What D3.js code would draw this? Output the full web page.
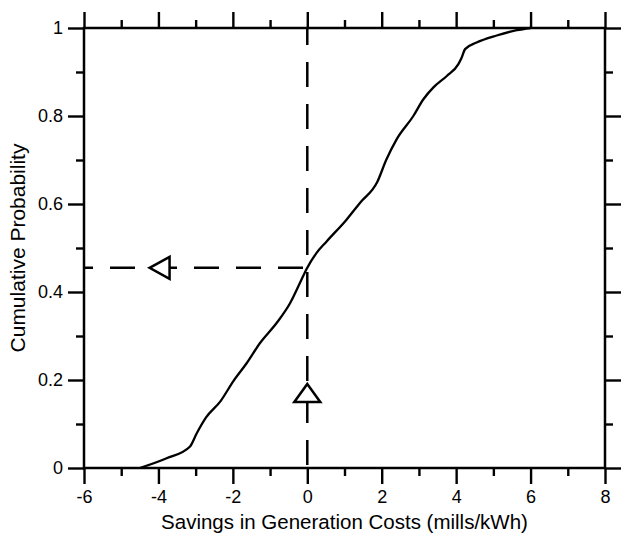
<!DOCTYPE html>
<html>
<head>
<meta charset="utf-8">
<script src="https://cdn.jsdelivr.net/npm/d3@7"></script>
<style>
  body { margin: 0; background: #fff; }
  svg { display: block; font-family: "Liberation Sans", Arial, Helvetica, sans-serif; }
  .tick text { font-size: 18px; fill: #000; }
  .tick line { stroke: #000; stroke-width: 2.4; }
</style>
</head>
<body>
<svg id="chart" width="623" height="536"></svg>
<script>
// savings (mills/kWh) vs cumulative probability
const savings = [-4.5, -3.78, -3.15, -2.97, -2.72, -2.33, -1.99, -1.63, -1.27, -0.82, -0.46, -0.195, -0.015, 0.25, 0.52, 1.06, 1.42, 1.88, 2.12, 2.4, 2.85, 3.12, 3.39, 3.75, 4.06, 4.15, 4.24, 4.55, 5.09, 5.63, 6.0];
const cumProb = [0, 0.022, 0.049, 0.079, 0.115, 0.152, 0.197, 0.238, 0.284, 0.33, 0.375, 0.421, 0.453, 0.489, 0.515, 0.565, 0.603, 0.65, 0.70, 0.747, 0.80, 0.838, 0.865, 0.891, 0.918, 0.933, 0.952, 0.967, 0.983, 0.995, 1.0];

const xMajor = [-6, -4, -2, 0, 2, 4, 6, 8];
const xMinor = [-5, -3, -1, 1, 3, 5, 7];
const yMajor = [0, 0.2, 0.4, 0.6, 0.8, 1];
const yMinor = [0.1, 0.3, 0.5, 0.7, 0.9];

// the reading shown by the arrows
const markX = 0;
const markY = 0.455;
const arrowLeftAt = -4.05;
const arrowUpAt = 0.15;

const svg = d3.select("#chart");

const x = d3.scaleLinear().domain([-6, 8]).range([84, 605]);
const y = d3.scaleLinear().domain([0, 1]).range([468, 28]);

// plain hyphen for negatives, like the original
const fmt = d => String(d);

// bottom
svg.append("g").attr("transform", `translate(0,${y(0)})`)
  .call(d3.axisBottom(x).tickValues(xMajor).tickSize(16).tickPadding(6).tickFormat(fmt).tickSizeOuter(0))
  .call(g => g.select(".domain").remove());
svg.append("g").attr("transform", `translate(0,${y(0)})`)
  .call(d3.axisBottom(x).tickValues(xMinor).tickSize(8).tickFormat("").tickSizeOuter(0))
  .call(g => g.select(".domain").remove());

// top
svg.append("g").attr("transform", `translate(0,${y(1)})`)
  .call(d3.axisTop(x).tickValues(xMajor).tickSize(16).tickFormat("").tickSizeOuter(0))
  .call(g => g.select(".domain").remove());
svg.append("g").attr("transform", `translate(0,${y(1)})`)
  .call(d3.axisTop(x).tickValues(xMinor).tickSize(8).tickFormat("").tickSizeOuter(0))
  .call(g => g.select(".domain").remove());

// left
svg.append("g").attr("transform", `translate(${x(-6)},0)`)
  .call(d3.axisLeft(y).tickValues(yMajor).tickSize(16).tickPadding(5).tickFormat(fmt).tickSizeOuter(0))
  .call(g => g.select(".domain").remove());
svg.append("g").attr("transform", `translate(${x(-6)},0)`)
  .call(d3.axisLeft(y).tickValues(yMinor).tickSize(8).tickFormat("").tickSizeOuter(0))
  .call(g => g.select(".domain").remove());

// right
svg.append("g").attr("transform", `translate(${x(8)},0)`)
  .call(d3.axisRight(y).tickValues(yMajor).tickSize(16).tickFormat("").tickSizeOuter(0))
  .call(g => g.select(".domain").remove());
svg.append("g").attr("transform", `translate(${x(8)},0)`)
  .call(d3.axisRight(y).tickValues(yMinor).tickSize(8).tickFormat("").tickSizeOuter(0))
  .call(g => g.select(".domain").remove());

// frame
svg.append("rect")
  .attr("x", x(-6)).attr("y", y(1))
  .attr("width", x(8) - x(-6)).attr("height", y(0) - y(1))
  .attr("fill", "none").attr("stroke", "#000").attr("stroke-width", 2.5);

// dashed guide lines
svg.append("line")
  .attr("x1", x(-6)).attr("x2", x(markX))
  .attr("y1", y(markY)).attr("y2", y(markY))
  .attr("stroke", "#000").attr("stroke-width", 2.5)
  .attr("stroke-dasharray", "25,17").attr("stroke-dashoffset", 16);

svg.append("line")
  .attr("x1", x(markX)).attr("x2", x(markX))
  .attr("y1", y(1)).attr("y2", y(0))
  .attr("stroke", "#000").attr("stroke-width", 2.5)
  .attr("stroke-dasharray", "25,17").attr("stroke-dashoffset", 8);

// CDF curve
const line = d3.line()
  .x((d, i) => x(savings[i]))
  .y(d => y(d))
  .curve(d3.curveMonotoneX);

svg.append("path")
  .datum(cumProb)
  .attr("d", line)
  .attr("fill", "none")
  .attr("stroke", "#000")
  .attr("stroke-width", 2.3);

// arrows
const ax = x(arrowLeftAt), ay = y(markY);
svg.append("path")
  .attr("d", `M${ax - 7},${ay} L${ax + 13},${ay - 11} L${ax + 13},${ay + 11} Z`)
  .attr("fill", "#fff").attr("stroke", "#000").attr("stroke-width", 2.5)
  .attr("stroke-linejoin", "miter");

const ux = x(markX), uy = y(arrowUpAt);
svg.append("path")
  .attr("d", `M${ux},${uy - 18} L${ux + 13},${uy} L${ux - 13},${uy} Z`)
  .attr("fill", "#fff").attr("stroke", "#000").attr("stroke-width", 2.5)
  .attr("stroke-linejoin", "miter");

// axis titles
svg.append("text")
  .attr("x", (x(-6) + x(8)) / 2).attr("y", 529)
  .attr("text-anchor", "middle")
  .style("font-size", "20.5px")
  .text("Savings in Generation Costs (mills/kWh)");

svg.append("text")
  .attr("transform", `translate(25,${(y(0) + y(1)) / 2}) rotate(-90)`)
  .attr("text-anchor", "middle")
  .style("font-size", "21px")
  .text("Cumulative Probability");
</script>
</body>
</html>
